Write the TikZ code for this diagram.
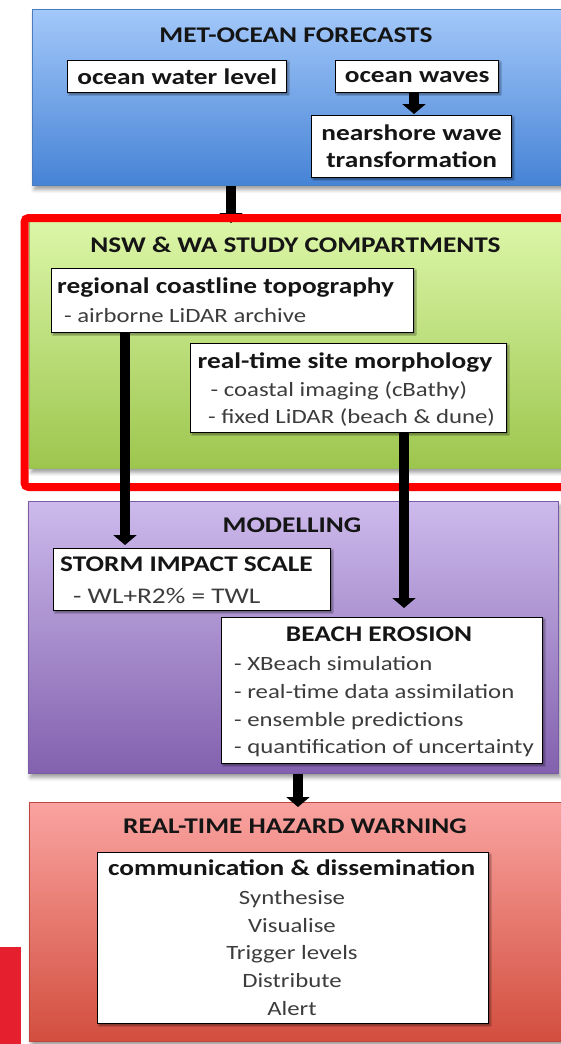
\documentclass[tikz,border=0pt]{standalone}
\usepackage{fontspec}
\setmainfont{Carlito}[FakeStretch=1.22]
\usetikzlibrary{arrows.meta,shadows.blur}

\definecolor{blueT}{HTML}{A3C8FA}
\definecolor{blueB}{HTML}{4683D5}
\definecolor{blueE}{HTML}{4A7CC0}
\definecolor{greenT}{HTML}{DCF6A8}
\definecolor{greenB}{HTML}{9DC64E}
\definecolor{greenE}{HTML}{98BE58}
\definecolor{violetT}{HTML}{CDBAEC}
\definecolor{violetB}{HTML}{8261AE}
\definecolor{violetE}{HTML}{7A5AA5}
\definecolor{roseT}{HTML}{FAA3A0}
\definecolor{roseB}{HTML}{D24E3E}
\definecolor{roseE}{HTML}{C0453C}
\definecolor{hilite}{HTML}{FF0000}
\definecolor{logored}{HTML}{E51F2D}
\definecolor{ink}{HTML}{151515}
\definecolor{subc}{HTML}{3C3C3C}

\tikzset{
  panel/.style={draw, line width=0.9pt, inner sep=0pt, anchor=north west,
    blur shadow={shadow xshift=2pt, shadow yshift=-4pt, shadow blur radius=4pt, shadow opacity=40}},
  box/.style={draw=black, line width=1.4pt, fill=white, inner sep=0pt, anchor=north west,
    blur shadow={shadow xshift=1.5pt, shadow yshift=-1.5pt, shadow blur radius=1.5pt, shadow opacity=45}},
  cbox/.style={box, align=center, text=ink, font=\bfseries\fontsize{22.4pt}{27pt}\selectfont},
  arr/.style={line width=10pt, black, -{Triangle[width=23pt,length=10pt]}},
  ttl/.style={inner sep=0pt, anchor=base, text=ink, font=\bfseries\fontsize{22.4pt}{28pt}\selectfont},
  hdl/.style={inner sep=0pt, anchor=base west, text=ink, font=\bfseries\fontsize{22.4pt}{28pt}\selectfont},
  itm/.style={inner sep=0pt, anchor=base west, text=subc, font=\fontsize{20.3pt}{28pt}\selectfont},
  itc/.style={itm, anchor=base},
}

\begin{document}
\begin{tikzpicture}[x=1pt,y=-1pt]
\useasboundingbox (0,0) rectangle (560,1044);

% arrow guide lines
\coordinate (ta) at (231,0);
\coordinate (wa) at (414,0);
\coordinate (la) at (125,0);
\coordinate (ra) at (404,0);
\coordinate (ba) at (298,0);

% stage panels
\node[panel, draw=blueE, top color=blueT, bottom color=blueB,
      minimum width=545pt, minimum height=176pt] (pblue) at (32,9) {};
\node[panel, draw=greenE, top color=greenT, bottom color=greenB,
      minimum width=548pt, minimum height=248pt] (pgreen) at (29,220) {};
\node[panel, draw=violetE, top color=violetT, bottom color=violetB,
      minimum width=530pt, minimum height=272pt] (pviolet) at (28,501) {};
\node[panel, draw=roseE, top color=roseT, bottom color=roseB,
      minimum width=548pt, minimum height=239pt] (prose) at (29,802) {};

% logo strip
\fill[logored] (0,947) rectangle (21,1044);

% panel titles
\node[ttl] (tblue) at (296,42.7) {MET-OCEAN FORECASTS};
\node[ttl] (tgreen) at (295.5,252.5) {NSW \& WA STUDY COMPARTMENTS};
\node[ttl] (tviolet) at (292,532.5) {MODELLING};
\node[ttl] (trose) at (295,833.2) {REAL-TIME HAZARD WARNING};

% met-ocean boxes
\node[cbox, minimum width=219pt, minimum height=32pt] (owl) at (67,60) {ocean water level};
\node[cbox, minimum width=163pt, minimum height=32pt] (ow) at (335,60) {ocean waves};
\node[cbox, minimum width=200pt, minimum height=62pt] (nw) at (311,115) {nearshore wave\\transformation};

% study compartment boxes
\node[box, minimum width=362pt, minimum height=64pt] (rgn) at (51,268) {};
\node[hdl] (rgn1) at (57,293.5) {regional coastline topography};
\node[itm] (rgn2) at (64,322) {- airborne LiDAR archive};

\node[box, minimum width=316pt, minimum height=89pt] (rts) at (190,343) {};
\node[hdl] (rts1) at (197.5,368) {real-time site morphology};
\node[itm] (rts2) at (210.5,396) {- coastal imaging (cBathy)};
\node[itm] (rts3) at (208,423) {- fixed LiDAR (beach \& dune)};

% modelling boxes
\node[box, minimum width=277pt, minimum height=62pt] (stm) at (53,548) {};
\node[hdl] (stm1) at (60,571.7) {STORM IMPACT SCALE};
\node[itm, font=\fontsize{22.4pt}{28pt}\selectfont] (stm2) at (73,603.3) {- WL+R2\% = TWL};

\node[box, minimum width=321pt, minimum height=146pt] (be) at (221,617) {};
\node[ttl] (be1) at (379,641.7) {BEACH EROSION};
\node[itm] (be2) at (234,670) {- XBeach simulation};
\node[itm] (be3) at (234,698) {- real-time data assimilation};
\node[itm] (be4) at (234,726) {- ensemble predictions};
\node[itm] (be5) at (234,753.5) {- quantification of uncertainty};

% warning box
\node[box, minimum width=391pt, minimum height=171pt] (com) at (97,852) {};
\node[ttl] (com1) at (291.6,875) {communication \& dissemination};
\node[itc] (com2) at (292,904.3) {Synthesise};
\node[itc] (com3) at (292,932) {Visualise};
\node[itc] (com4) at (292,959.7) {Trigger levels};
\node[itc] (com5) at (292,987.4) {Distribute};
\node[itc] (com6) at (292,1015) {Alert};

% flow arrows
\draw[arr, shorten >=1pt] (ow.south -| wa) -- (nw.north -| wa);
\draw[arr, shorten >=-3pt] (pblue.south -| ta) -- (pgreen.north -| ta);

% highlight frame around the study compartments
\node[draw=hilite, line width=8pt, rounded corners=4pt, inner sep=0pt, anchor=north west,
      minimum width=572pt, minimum height=269pt] (focus) at (20.5,214) {};

\draw[arr, shorten >=3pt] (rgn.south -| la) -- (stm.north -| la);
\draw[arr, shorten >=9pt] (rts.south -| ra) -- (be.north -| ra);
\draw[arr, shorten >=-5pt] (pviolet.south -| ba) -- (prose.north -| ba);
\end{tikzpicture}
\end{document}
